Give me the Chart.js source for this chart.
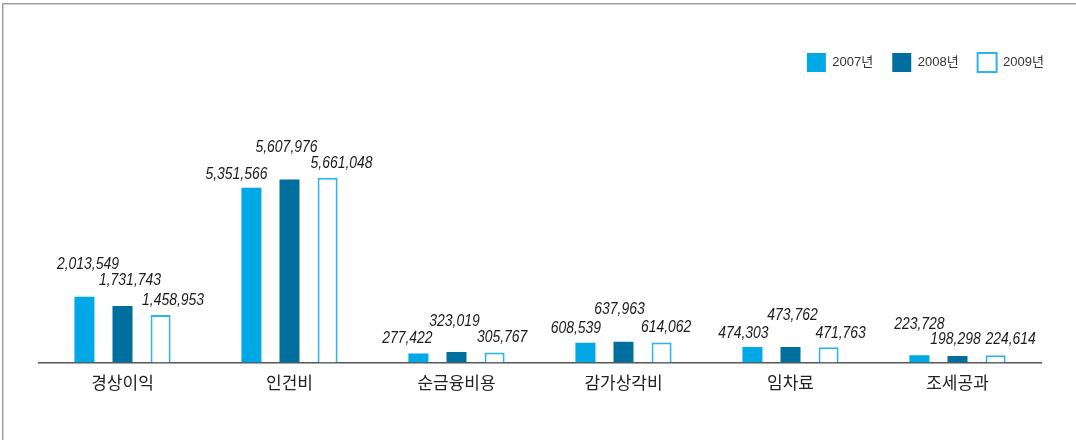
<!DOCTYPE html>
<html>
<head>
<meta charset="utf-8">
<script src="https://cdn.jsdelivr.net/npm/chart.js@4.4.1/dist/chart.umd.min.js"></script>
<style>
  html, body { margin: 0; padding: 0; background: #fff; }
  #wrap { position: relative; width: 1076px; height: 440px; overflow: hidden; }
  #frame {
    position: absolute; left: 2px; top: 3px; right: -5px; bottom: -5px;
    border-top: 1px solid #9a9a9a; border-left: 1px solid #9a9a9a;
    box-shadow: inset 1px 1px 0 #d0d0d0;
    pointer-events: none;
  }
  canvas { position: absolute; left: 0; top: 0; }
</style>
</head>
<body>
<div id="wrap">
  <canvas id="chart" width="1076" height="440"></canvas>
  <div id="frame"></div>
</div>
<script>
const categories = ["경상이익", "인건비", "순금융비용", "감가상각비", "임차료", "조세공과"];
const seriesNames = ["2007년", "2008년", "2009년"];
const values2007 = [2013549, 5351566, 277422, 608539, 474303, 223728];
const values2008 = [1731743, 5607976, 323019, 637963, 473762, 198298];
const values2009 = [1458953, 5661048, 305767, 614062, 471763, 224614];

// label nudges [dx, lift above bar top] per category, per series
const labelNudge = [
  [[3.5, 33], [7.5, 26], [12.5, 15]],
  [[-15, 14], [-3, 32], [14, 14]],
  [[-11, 15], [-2, 31], [7.5, 15]],
  [[-9.5, 14], [-4, 32], [4.5, 15]],
  [[-9, 14], [2, 32], [12, 14]],
  [[0, 31], [-2, 17], [15, 16]]
];

const fmt = v => v.toLocaleString("en-US");
const squeeze = 0.82; // labels are set in a condensed face

const valueLabels = {
  id: "valueLabels",
  afterLayout(chart) {
    // push the legend to the right edge like the original
    chart.legend.left += 22;
    chart.legend.right += 22;
  },
  afterDatasetsDraw(chart) {
    const ctx = chart.ctx;
    ctx.save();
    ctx.font = 'italic 17px "Liberation Sans", Arial, sans-serif';
    ctx.fillStyle = "#1a1a1a";
    ctx.textAlign = "center";
    ctx.textBaseline = "middle";
    chart.data.datasets.forEach((ds, i) => {
      chart.getDatasetMeta(i).data.forEach((bar, j) => {
        const n = labelNudge[j][i];
        ctx.save();
        ctx.translate(bar.x + n[0], bar.y - n[1]);
        ctx.scale(squeeze, 1);
        ctx.fillText(fmt(ds.data[j]), 0, 0);
        ctx.restore();
      });
    });
    ctx.restore();
  }
};

new Chart(document.getElementById("chart"), {
  type: "bar",
  data: {
    labels: categories,
    datasets: [
      { label: seriesNames[0], data: values2007, backgroundColor: "#00a8e6", borderWidth: 0 },
      { label: seriesNames[1], data: values2008, backgroundColor: "#006f9d", borderWidth: 0 },
      { label: seriesNames[2], data: values2009, backgroundColor: "#ffffff", borderColor: "#2cb4ec", borderWidth: 2 }
    ]
  },
  options: {
    responsive: false,
    animation: false,
    layout: { padding: { left: 39, right: 35, top: 34, bottom: 37 } },
    datasets: { bar: { categoryPercentage: 0.684, barPercentage: 0.526 } },
    plugins: {
      legend: {
        position: "top",
        align: "end",
        labels: {
          boxWidth: 19,
          boxHeight: 19,
          padding: 19,
          color: "#333",
          font: { size: 13, family: '"Liberation Sans", "Noto Sans CJK KR", sans-serif' }
        }
      },
      tooltip: { enabled: false }
    },
    scales: {
      x: {
        grid: { display: false, drawTicks: false },
        border: { color: "#555", width: 1.5 },
        ticks: {
          padding: 10,
          color: "#222",
          font: { size: 17, family: '"Noto Sans CJK KR", sans-serif' }
        }
      },
      y: {
        display: false,
        min: 0,
        max: 8590000
      }
    }
  },
  plugins: [valueLabels]
});
</script>
</body>
</html>
